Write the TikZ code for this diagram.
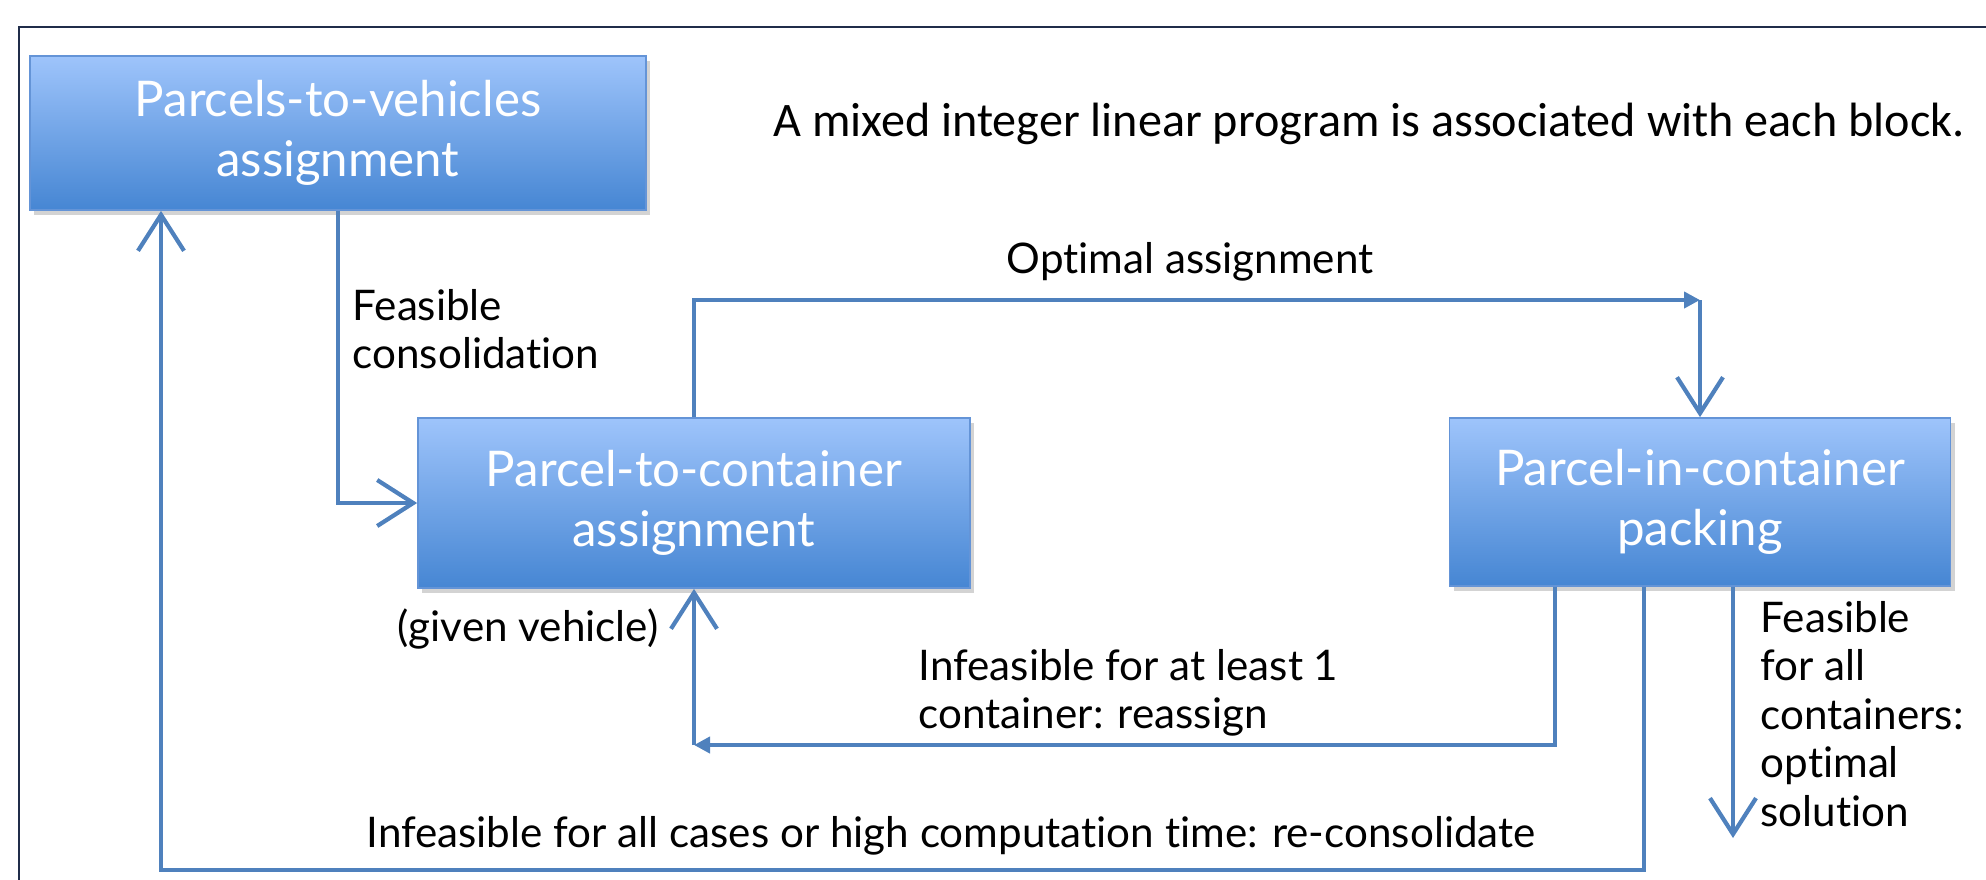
\documentclass[tikz,border=0pt]{standalone}
\usepackage{fontspec}
\setmainfont{Lato}[Ligatures=NoCommon]
\newfontfamily\calfont{Carlito}
\usepackage{tikz}
\usetikzlibrary{positioning,arrows.meta,shadows}
\definecolor{blkTop}{RGB}{158,196,251}
\definecolor{blkBot}{RGB}{70,134,211}
\definecolor{blkLine}{RGB}{100,148,215}
\definecolor{lnC}{RGB}{79,129,189}
\definecolor{frameC}{RGB}{32,45,74}

\begin{document}
\begin{tikzpicture}[
  blk/.style={
    draw=blkLine, line width=0.5pt, shading=axis,
    top color=blkTop, bottom color=blkBot,
    text=white, align=center, inner sep=2pt,
    font=\fontsize{14}{17}\selectfont,
    drop shadow={opacity=0.35,shadow xshift=0.04cm,shadow yshift=-0.05cm}
  },
  lbl/.style={font=\fontsize{12}{13.8}\selectfont, align=left, inner sep=0pt},
  a/.style={-{Straight Barb[length=3.6mm,width=4.6mm]},line width=1.2pt,lnC},
  c/.style={-{Triangle[length=1.6mm,width=1.6mm]},line width=1.2pt,lnC}
]
\useasboundingbox (0,0) rectangle (19.86,8.79);
% Frame
\draw[frameC,line width=0.8pt] (20,8.52) -- (0.19,8.52) -- (0.19,-0.1);

% Blocks
\node[blk,minimum width=6.16cm,minimum height=1.54cm] (b1) at (3.38,7.46)
  {Parcels-to-vehicles\\assignment};
\node[blk,minimum width=5.52cm,minimum height=1.70cm] (b2) at (6.94,3.76)
  {Parcel-to-container\\assignment};
\node[blk,minimum width=5.01cm,minimum height=1.68cm] (b3) at (17.00,3.77)
  {Parcel-in-container\\packing};

\node[font=\calfont\fontsize{13.7}{16}\selectfont] (note) at (13.69,7.55)
  {A mixed integer linear program is associated with each block.};

% Corners
\coordinate (k1) at (b3.north |- 0,5.79);
\coordinate (k2) at (b2.south |- 0,1.34);
\coordinate (k3) at (1.61,0.09);
\coordinate (out) at ([xshift=0.33cm]b3.south |- 0,0.41);

% Connectors
\draw[a] (b1.south) |- (b2.west);
\draw[c] (b2.north) |- (k1);
\draw[a] (k1) -- (b3.north);
\draw[c] ([xshift=-1.45cm]b3.south) |- (k2);
\draw[a] (k2) -- (b2.south);
\draw[a] ([xshift=-0.56cm]b3.south) |- (k3) -- (k3 |- b1.south);
\draw[a] ([xshift=0.33cm]b3.south) -- (out);

% Labels
\node[lbl,anchor=west] (l1) at (3.52,5.50) {Feasible\\consolidation};
\node[lbl] (l2) at (11.90,6.17) {Optimal assignment};
\node[lbl] (l3) at (5.28,2.50) {(given vehicle)};
\node[lbl,anchor=west] (l4) at (9.18,1.86) {Infeasible for at least 1\\container: reassign};
\node[lbl] (l5) at (9.51,0.43)
  {Infeasible for all cases or high computation time: re-consolidate};
\node[lbl,anchor=west] (l6) at (17.60,1.65)
  {Feasible\\for all\\containers:\\optimal\\solution};
\end{tikzpicture}
\end{document}
